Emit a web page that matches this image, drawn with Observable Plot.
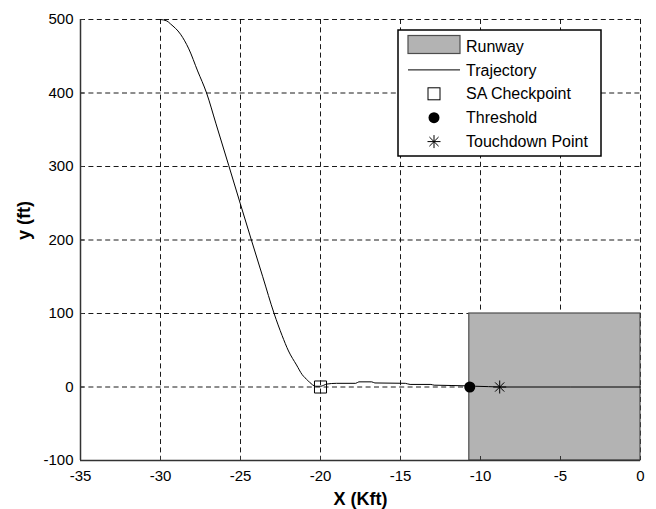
<!DOCTYPE html>
<html><head><meta charset="utf-8">
<script src="https://cdn.jsdelivr.net/npm/d3@7"></script>
<script src="https://cdn.jsdelivr.net/npm/@observablehq/plot@0.6"></script>
<style>
body{margin:0;background:#fff;}
#wrap{position:relative;width:656px;height:509px;font-family:"Liberation Sans",Arial,sans-serif;}
#legend{position:absolute;left:0;top:0;}
</style></head><body><div id="wrap"></div>
<script>
// ---- data ----
const xTicks = [-35, -30, -25, -20, -15, -10, -5, 0];
const yTicks = [-100, 0, 100, 200, 300, 400, 500];
const trajX = [-30, -29.6, -29.375, -28.75, -28.23, -27.68, -27.12, -26.53, -25.73, -25.02, -24.32, -23.61, -22.9, -22.4, -22.0, -21.5, -21.15, -20.8, -20.5, -20.3, -20.0, -19.6, -19.0, -17.8, -17.6, -16.8, -16.6, -14.7, -14.4, -13.1, -12.9, -10.67, -10.3, -9.5, -8.8, 0];
const trajY = [500, 498, 494, 480, 460, 430, 400, 358, 301, 250, 200, 150, 100, 70, 49, 30, 17, 9, 3, 1, 1, 4, 5, 5, 7, 7, 5.5, 5, 3.5, 3.5, 2.5, 1.5, 1, 0.5, 0, 0];
const runwayX = [-10.7, 0];
const runwayY = [-100, 100];
const markerNames = ["SA Checkpoint", "Threshold", "Touchdown Point"];
const markerX = [-20, -10.67, -8.8];
const markerY = [0, 0, 0];
const legendLabels = ["Runway", "Trajectory", "SA Checkpoint", "Threshold", "Touchdown Point"];
const xLabel = "X (Kft)";
const yLabel = "y (ft)";

// ---- build ----
const traj = trajX.map((x, i) => ({x, y: trajY[i]}));
const runway = [{x1: runwayX[0], x2: runwayX[1], y1: runwayY[0], y2: runwayY[1]}];
const markers = markerNames.map((name, i) => ({name, x: markerX[i], y: markerY[i]}));

const asterisk = {
  draw(ctx, size) {
    const r = Math.sqrt(size / Math.PI);
    const d = r * Math.SQRT1_2;
    ctx.moveTo(-r, 0); ctx.lineTo(r, 0);
    ctx.moveTo(0, -r); ctx.lineTo(0, r);
    ctx.moveTo(-d, -d); ctx.lineTo(d, d);
    ctx.moveTo(-d, d); ctx.lineTo(d, -d);
  }
};

const fmt = d => String(d);
const dash = "5,3.4";
const chart = Plot.plot({
  width: 656, height: 509,
  marginLeft: 80, marginRight: 16, marginTop: 19, marginBottom: 49,
  style: {fontFamily: "'Liberation Sans', Arial, sans-serif", fontSize: "15px", color: "black", background: "white"},
  x: {domain: [-35, 0]},
  y: {domain: [-100, 500]},
  marks: [
    Plot.gridX(xTicks, {stroke: "#000", strokeOpacity: 1, strokeWidth: 0.9, strokeDasharray: dash}),
    Plot.gridY(yTicks, {stroke: "#000", strokeOpacity: 1, strokeWidth: 0.9, strokeDasharray: dash}),
    Plot.rect(runway, {x1: "x1", x2: "x2", y1: "y1", y2: "y2", fill: "#b3b3b3", stroke: "#4d4d4d", strokeWidth: 1.2}),
    Plot.line(traj, {x: "x", y: "y", stroke: "#000", strokeWidth: 1, curve: "monotone-x"}),
    Plot.dot(markers.filter(d => d.name === "SA Checkpoint"), {x: "x", y: "y", symbol: "square", r: 6.8, stroke: "#000", strokeWidth: 1, fill: "none"}),
    Plot.dot(markers.filter(d => d.name === "Threshold"), {x: "x", y: "y", symbol: "circle", r: 5.5, fill: "#000", stroke: "none"}),
    Plot.dot(markers.filter(d => d.name === "Touchdown Point"), {x: "x", y: "y", symbol: asterisk, r: 6.5, stroke: "#000", strokeWidth: 1, fill: "none"}),
    Plot.ruleX([-35], {stroke: "#333", strokeWidth: 1.5}),
    Plot.ruleY([-100], {stroke: "#333", strokeWidth: 1.5}),
    Plot.axisX(xTicks, {tickSize: 4, dy: -4, tickPadding: 10, label: null, stroke: "#333", fontSize: 15, tickFormat: fmt}),
    Plot.axisY(yTicks, {tickSize: 4, dx: 4, tickPadding: 7, label: null, stroke: "#333", fontSize: 15, tickFormat: fmt}),
    Plot.text([xLabel], {frameAnchor: "bottom", dy: 39, lineAnchor: "middle", fontWeight: "bold", fontSize: 18}),
    Plot.text([yLabel], {frameAnchor: "left", dx: -56, rotate: -90, lineAnchor: "middle", fontWeight: "bold", fontSize: 18})
  ]
});
const wrap = document.getElementById("wrap");
wrap.appendChild(chart);

// ---- legend overlay ----
const lg = d3.select(wrap).append("svg").attr("id", "legend")
  .attr("width", 656).attr("height", 509)
  .style("font-family", "'Liberation Sans', Arial, sans-serif").style("font-size", "16px");
const bx = 398, by = 30, bw = 203, bh = 126;
lg.append("rect").attr("x", bx).attr("y", by).attr("width", bw).attr("height", bh)
  .attr("fill", "#fff").attr("stroke", "#000").attr("stroke-width", 1.5);
const rowY = i => by + 16 + i * 23.9;
const sx = 434;
legendLabels.forEach((lab, i) => {
  const y = rowY(i);
  if (lab === "Runway") {
    lg.append("rect").attr("x", 408).attr("y", y - 10.5).attr("width", 52).attr("height", 18)
      .attr("fill", "#b3b3b3").attr("stroke", "#4d4d4d").attr("stroke-width", 1.2);
  } else if (lab === "Trajectory") {
    lg.append("line").attr("x1", 408).attr("x2", 460).attr("y1", y).attr("y2", y).attr("stroke", "#000");
  } else if (lab === "SA Checkpoint") {
    lg.append("rect").attr("x", sx - 6).attr("y", y - 6).attr("width", 12).attr("height", 12)
      .attr("fill", "none").attr("stroke", "#000");
  } else if (lab === "Threshold") {
    lg.append("circle").attr("cx", sx).attr("cy", y).attr("r", 5.5).attr("fill", "#000");
  } else {
    lg.append("path").attr("transform", `translate(${sx},${y})`)
      .attr("d", d3.symbol(asterisk, Math.PI * 6.5 * 6.5)()).attr("stroke", "#000").attr("fill", "none");
  }
  lg.append("text").attr("x", 466).attr("y", y).attr("dy", "0.35em").text(lab);
});
</script></body></html>
